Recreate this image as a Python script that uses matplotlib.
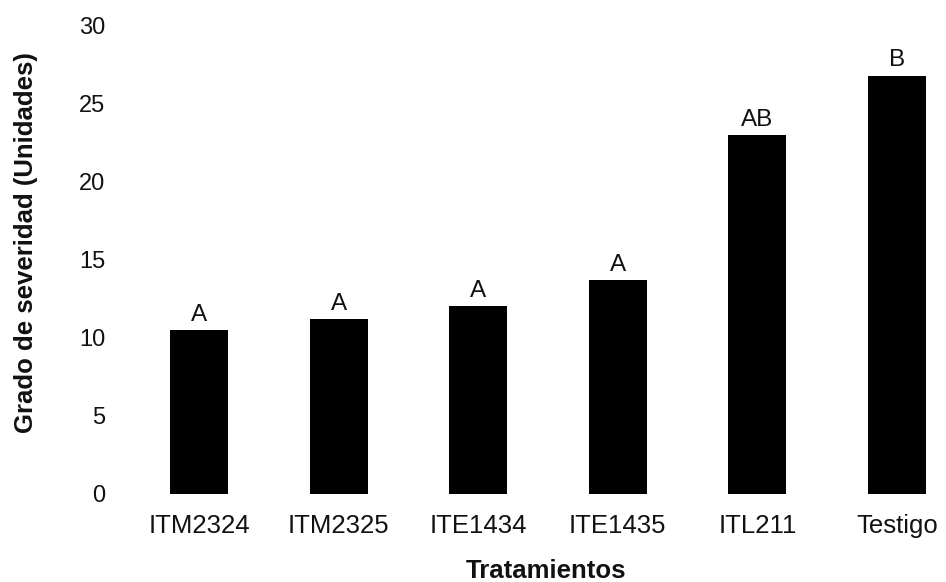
import matplotlib
matplotlib.use("Agg")
import matplotlib.pyplot as plt

categories = ["ITM2324", "ITM2325", "ITE1434", "ITE1435", "ITL211", "Testigo"]
values = [10.5, 11.2, 12.0, 13.7, 23.0, 26.8]
letters = ["A", "A", "A", "A", "AB", "B"]
yticks = [0, 5, 10, 15, 20, 25, 30]

plt.rcParams['font.family'] = ['Liberation Sans', 'DejaVu Sans']

fig = plt.figure(figsize=(9.46, 5.82), dpi=100)
ax = fig.add_axes([0.1321, 0.152, 0.8679, 0.804])

x = list(range(len(categories)))
ax.bar(x, values, width=0.415, color="black")
for xi, v, lab in zip(x, values, letters):
    ax.annotate(lab, (xi, v), xytext=(0, 3), textcoords="offset points",
                ha="center", va="bottom", fontsize=17.5, color="#111111")

ax.set_xlim(-0.53, 5.351)
ax.set_ylim(0, 30)
ax.set_yticks(yticks)
ax.set_xticks(x)
ax.set_xticklabels(categories)
ax.tick_params(axis="y", length=0, pad=14, labelsize=17, labelcolor="#111111")
ax.tick_params(axis="x", length=0, pad=15, labelsize=18.5, labelcolor="#111111")
for s in ax.spines.values():
    s.set_visible(False)

ax.set_xlabel("Tratamientos", fontsize=18.5, fontweight="bold", color="#111111")
ax.xaxis.set_label_coords(0.5134, -0.139)
ax.set_ylabel("Grado de severidad (Unidades)", fontsize=18.5, fontweight="bold", color="#111111")
ax.yaxis.set_label_coords(-0.106, 0.537)

fig.savefig("out.png", dpi=100)
